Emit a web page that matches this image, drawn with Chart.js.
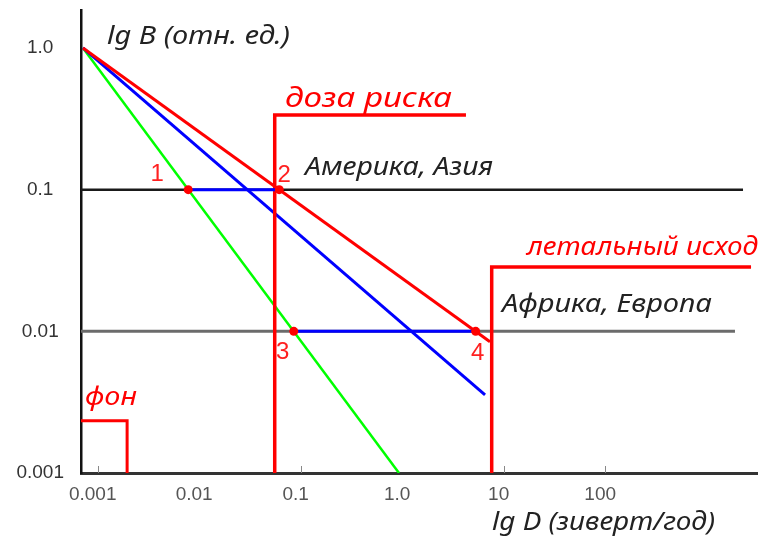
<!DOCTYPE html>
<html>
<head>
<meta charset="utf-8">
<script src="https://cdn.jsdelivr.net/npm/chart.js@4"></script>
<style>
  html, body { margin: 0; padding: 0; background: #fff; }
  #wrap { width: 758px; height: 537px; }
</style>
</head>
<body>
<div id="wrap"><canvas id="chart"></canvas></div>
<script>
// axis ticks
const doseTicks       = [0.001, 0.01, 0.1, 1, 10, 100]
const doseTickLabels  = ["0.001", "0.01", "0.1", "1.0", "10", "100"]
const doseTickMarks   = [0.001, 0.1, 10, 100]
const riskTicks       = [0.001, 0.01, 0.1, 1]
const riskTickLabels  = ["0.001", "0.01", "0.1", "1.0"]
const doseRange       = [0.000685, 3203]
const riskRange       = [0.001, 1.854]

// dose-effect lines (lg D, lg B)
const redDose   = [0.000716, 7.33]
const redRisk   = [1.0, 0.00845]
const blueDose  = [0.000716, 6.55]
const blueRisk  = [1.0, 0.00356]
const greenDose = [0.000716, 0.93]
const greenRisk = [1.0, 0.001]

// reference levels
const levelHighDose = [0.000685, 2280]
const levelHighRisk = [0.1, 0.1]
const levelLowDose  = [0.000685, 1900]
const levelLowRisk  = [0.01, 0.01]

// blue steps between the marked points
const stepHighDose = [0.0078, 0.0615]
const stepHighRisk = [0.1, 0.1]
const stepLowDose  = [0.0855, 5.3]
const stepLowRisk  = [0.01, 0.01]

// threshold frames
const riskDoseX   = [0.0555, 0.0555, 4.25]
const riskDoseY   = [0.001, 0.336, 0.336]
const lethalX     = [7.62, 7.62, 2735]
const lethalY     = [0.001, 0.0285, 0.0285]
const backgroundX = [0.000685, 0.00195, 0.00195]
const backgroundY = [0.00234, 0.00234, 0.001]

// marked points
const pointDose  = [0.0078, 0.0615, 0.0855, 5.3]
const pointRisk  = [0.1, 0.1, 0.01, 0.01]
const pointNames = ["1", "2", "3", "4"]

const pts = (xs, ys) => xs.map((x, i) => ({ x: x, y: ys[i] }))

const pointLabelOffsets = [[-31, -15], [5, -14], [-11, 21], [2, 22]]

const texts = [
  { t: "lg B (отн. ед.)",   x: 107, y: 44,  w: 183, size: 26, color: "#222" },
  { t: "доза риска",        x: 285, y: 107, w: 167, size: 27, color: "#ff0000" },
  { t: "Америка, Азия",     x: 305, y: 175, w: 188, size: 26, color: "#222" },
  { t: "летальный исход",   x: 527, y: 255, w: 231, size: 26, color: "#ff0000" },
  { t: "Африка, Европа",    x: 502, y: 312, w: 210, size: 26, color: "#222" },
  { t: "lg D (зиверт/год)", x: 492, y: 530, w: 223, size: 26, color: "#222" },
  { t: "фон",               x: 85,  y: 405, w: 52,  size: 26, color: "#ff0000" }
]

const line = (data, color, width) => ({
  data: data,
  showLine: true,
  borderColor: color,
  borderWidth: width,
  pointRadius: 0,
  fill: false,
  tension: 0
})

const annotations = {
  id: "annotations",
  afterDraw(chart) {
    const ctx = chart.ctx
    const xs = chart.scales.x
    const ys = chart.scales.y

    ctx.save()
    // small tick marks on the dose axis
    ctx.strokeStyle = "#888"
    ctx.lineWidth = 1
    doseTickMarks.forEach(v => {
      const px = Math.round(xs.getPixelForValue(v)) + 0.5
      ctx.beginPath()
      ctx.moveTo(px, ys.bottom - 7)
      ctx.lineTo(px, ys.bottom)
      ctx.stroke()
    })

    // point numbers
    ctx.font = "24px 'Liberation Sans', Arial, sans-serif"
    ctx.fillStyle = "#ff2020"
    ctx.textAlign = "center"
    ctx.textBaseline = "middle"
    pointNames.forEach((n, i) => {
      const px = xs.getPixelForValue(pointDose[i]) + pointLabelOffsets[i][0]
      const py = ys.getPixelForValue(pointRisk[i]) + pointLabelOffsets[i][1]
      ctx.fillText(n, px, py)
    })

    // captions, stretched to the reference width
    ctx.textAlign = "left"
    ctx.textBaseline = "alphabetic"
    texts.forEach(item => {
      ctx.font = `italic ${item.size}px 'Noto Sans', 'Liberation Sans', sans-serif`
      ctx.fillStyle = item.color
      const m = ctx.measureText(item.t).width
      ctx.save()
      ctx.translate(item.x, item.y)
      ctx.scale(item.w / m, 1)
      ctx.fillText(item.t, 0, 0)
      ctx.restore()
    })
    ctx.restore()
  }
}

new Chart(document.getElementById("chart"), {
  type: "scatter",
  data: {
    datasets: [
      {
        data: pts(pointDose, pointRisk),
        pointRadius: 4.5,
        pointBackgroundColor: "#ff0000",
        pointBorderWidth: 0,
        showLine: false
      },
      line(pts(stepHighDose, stepHighRisk), "#0000ff", 3),
      line(pts(stepLowDose, stepLowRisk), "#0000ff", 3),
      line(pts(riskDoseX, riskDoseY), "#ff0000", 3.5),
      line(pts(lethalX, lethalY), "#ff0000", 3.5),
      line(pts(backgroundX, backgroundY), "#ff0000", 3),
      line(pts(redDose, redRisk), "#ff0000", 3),
      line(pts(blueDose, blueRisk), "#0000ff", 3),
      line(pts(greenDose, greenRisk), "#00ff00", 2.5),
      line(pts(levelHighDose, levelHighRisk), "#1a1a1a", 2.5),
      line(pts(levelLowDose, levelLowRisk), "#6b6b6b", 3)
    ]
  },
  options: {
    responsive: true,
    maintainAspectRatio: false,
    animation: false,
    layout: { autoPadding: false, padding: { top: 10, left: 0, right: 0, bottom: 0 } },
    plugins: {
      legend: { display: false },
      tooltip: { enabled: false }
    },
    scales: {
      x: {
        type: "logarithmic",
        position: "bottom",
        min: doseRange[0],
        max: doseRange[1],
        bounds: "data",
        grid: { display: false, drawTicks: false },
        border: { display: true, color: "#333", width: 3 },
        afterBuildTicks: s => { s.ticks = doseTicks.map(v => ({ value: v })) },
        afterFit: s => { s.height = 64; s.paddingLeft = 0; s.paddingRight = 0 },
        ticks: {
          autoSkip: false,
          maxRotation: 0,
          padding: 10,
          labelOffset: -5,
          color: "#555",
          font: { family: "'Liberation Sans', Arial, sans-serif", size: 19 },
          callback: (v, i) => doseTickLabels[i]
        }
      },
      y: {
        type: "logarithmic",
        position: "left",
        min: riskRange[0],
        max: riskRange[1],
        bounds: "data",
        grid: { display: false, drawTicks: false },
        border: { display: true, color: "#111", width: 2.5 },
        afterBuildTicks: s => { s.ticks = riskTicks.map(v => ({ value: v })) },
        afterFit: s => { s.width = 81; s.paddingTop = 0; s.paddingBottom = 0 },
        ticks: {
          autoSkip: false,
          padding: 17,
          crossAlign: "center",
          color: "#333",
          font: { family: "'Liberation Sans', Arial, sans-serif", size: 19 },
          callback: (v, i) => riskTickLabels[i]
        }
      }
    }
  },
  plugins: [annotations]
})
</script>
</body>
</html>
